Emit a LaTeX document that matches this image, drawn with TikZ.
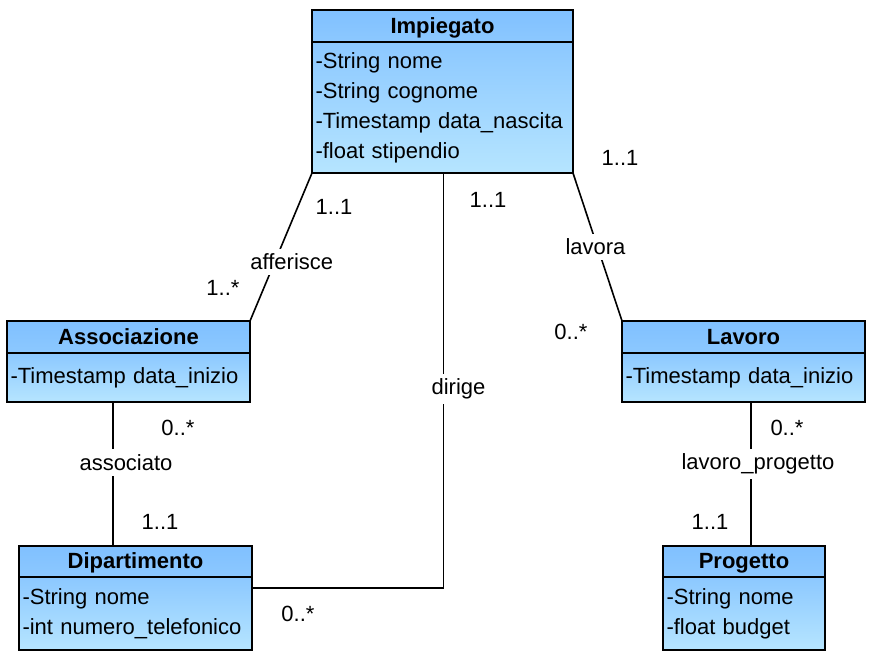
\documentclass[tikz,border=0pt]{standalone}
\usepackage{fontspec}
\setmainfont{Liberation Sans}
\usetikzlibrary{positioning}
\definecolor{umltop}{RGB}{128,192,255}
\definecolor{umlbot}{RGB}{182,229,255}

\begin{document}
\begin{tikzpicture}[x = 1pt, y = 1pt, font = \fontsize{22}{30}\selectfont,
	head/.style = {draw, line width = 2.7, outer sep = 0, inner sep = 0, minimum height = 32,
		text height = 16, text depth = 1.4,
		font = \fontsize{22}{30}\selectfont\bfseries, top color = umltop, bottom color = umltop!78!umlbot},
	attr/.style = {draw, line width = 2.7, outer sep = 0, inner xsep = 3.5, inner ysep = 0, align = left,
		top color = umltop!78!umlbot, bottom color = umlbot},
	assoc/.style = {fill = white, inner xsep = 1, inner ysep = 5},
	mult/.style = {inner sep = 0}]
	\useasboundingbox (0,0) rectangle (882,-656);
	%\draw[help lines, step = 50] (0,0) grid (882,-656);
	
	\node[head, minimum width = 261] (imphead) at (442.5,-26) {Impiegato};
	\node[attr, minimum width = 261, text width = 254, minimum height = 131, below = 0 of imphead] (imp)
		{-String nome\\
		-String cognome\\
		-Timestamp data\_nascita\\
		-float stipendio};
	
	\node[head, minimum width = 243] (asshead) at (128.5,-337) {Associazione};
	\node[attr, minimum width = 243, text width = 236, minimum height = 49, below = 0 of asshead] (ass)
		{-Timestamp data\_inizio};
	
	\node[head, minimum width = 243] (lavhead) at (743.5,-337) {Lavoro};
	\node[attr, minimum width = 243, text width = 236, minimum height = 49, below = 0 of lavhead] (lav)
		{-Timestamp data\_inizio};
	
	\node[head, minimum width = 233, minimum height = 31] (dephead) at (135.5,-561.5) {Dipartimento};
	\node[attr, minimum width = 233, text width = 226, minimum height = 73, below = 0 of dephead] (dep)
		{-String nome\\
		-int numero\_telefonico};
	
	\node[head, minimum width = 162, minimum height = 31] (proghead) at (744,-561.5) {Progetto};
	\node[attr, minimum width = 162, text width = 155, minimum height = 73, below = 0 of proghead] (prog)
		{-String nome\\
		-float budget};
	
	\coordinate (dcorner) at (443.5,-588);
	
	\begin{scope}[line width = 1.6]
		\draw (imp.south west) -- node[assoc, pos = .6, xshift = 17] (aff) {afferisce} (asshead.north east);
		\draw (imp.south -| dcorner) -- node[assoc, pos = .52, xshift = 15] (dir) {dirige} (dcorner)
			-- (dcorner -| dep.east);
		\draw (imp.south east) -- node[assoc, pos = .5, xshift = -2] (lvr) {lavora} (lavhead.north west);
		\draw ([xshift = -15.5]ass.south) -- node[assoc, pos = .42, xshift = 13] (asc) {associato}
			([xshift = -15.5]ass.south |- dephead.north);
		\draw ([xshift = 7.5]lav.south) -- node[assoc, pos = .43, xshift = 7] (lpr) {lavoro\_progetto}
			([xshift = 7.5]lav.south |- proghead.north);
	\end{scope}
	
	\node[mult] (m1) at (334,-207) {1..1};
	\node[mult] (m2) at (223,-288) {1..*};
	\node[mult] (m3) at (488,-200) {1..1};
	\node[mult] (m4) at (298,-614) {0..*};
	\node[mult] (m5) at (620,-158) {1..1};
	\node[mult] (m6) at (571,-332) {0..*};
	\node[mult] (m7) at (178,-428) {0..*};
	\node[mult] (m8) at (160,-522) {1..1};
	\node[mult] (m9) at (787,-428) {0..*};
	\node[mult] (m10) at (710,-522) {1..1};
\end{tikzpicture}
\end{document}
